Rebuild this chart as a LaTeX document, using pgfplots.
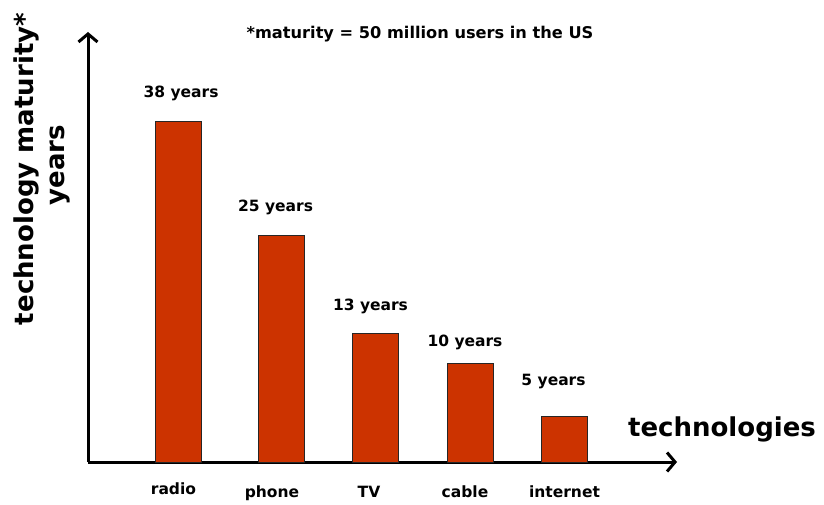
\documentclass[border=0pt]{standalone}
\usepackage{fontspec}
\setmainfont{DejaVu Sans}
\usepackage{pgfplots}
\pgfplotsset{compat=1.18}
\usetikzlibrary{arrows.meta}
\definecolor{barred}{HTML}{CC3300}
\newcommand{\smallbf}{\fontsize{15.5}{18}\selectfont\bfseries}
\newcommand{\titlebf}{\fontsize{16.2}{19}\selectfont\bfseries}
\newcommand{\bigbf}{\fontsize{26}{31}\selectfont\bfseries}
\begin{document}
\begin{tikzpicture}
\useasboundingbox (0,0) rectangle (824pt,504pt);
\begin{axis}[
  at={(88pt,42pt)}, anchor=south west,
  scale only axis,
  width=589pt, height=430pt,
  xmin=-0.0423, xmax=6.1905,
  ymin=0, ymax=48.04,
  axis x line*=bottom, axis y line*=left,
  axis line style={line width=3pt, -{Straight Barb[length=8pt,width=19pt,line width=3pt]}},
  major tick length=0pt,
  ytick=\empty,
  xtick={0.862,1.905,2.931,3.947,5.0},
  xticklabels={\raisebox{3pt}{radio},phone,TV,cable,internet},
  xticklabel style={font=\smallbf, anchor=base, yshift=-35pt},
  clip=false,
]
\addplot[ybar, bar width=46pt, fill=barred, draw=black!85, line width=1pt]
  coordinates {(0.9206,38.0) (2,25.36) (3,14.41) (4,10.95) (5,5.03)};
\addplot[only marks, mark=none, nodes near coords, point meta=explicit symbolic,
  nodes near coords align={anchor=base},
  every node near coord/.append style={font=\smallbf, anchor=base, inner sep=0pt}]
  coordinates {(0.942,40.67) [38 years] (1.942,28.04) [25 years] (2.947,16.98) [13 years]
               (3.947,12.85) [10 years] (4.884,8.60) [5 years]};
\end{axis}
\node[anchor=base, font=\titlebf] at (420pt,465pt) {*maturity = 50 million users in the US};
\node[anchor=base, font=\bigbf] at (722pt,68pt) {technologies};
\node[rotate=90, anchor=base, font=\bigbf] at (33pt,335pt) {technology maturity*};
\node[rotate=90, anchor=base, font=\bigbf] at (64pt,339pt) {years};
\end{tikzpicture}
\end{document}
